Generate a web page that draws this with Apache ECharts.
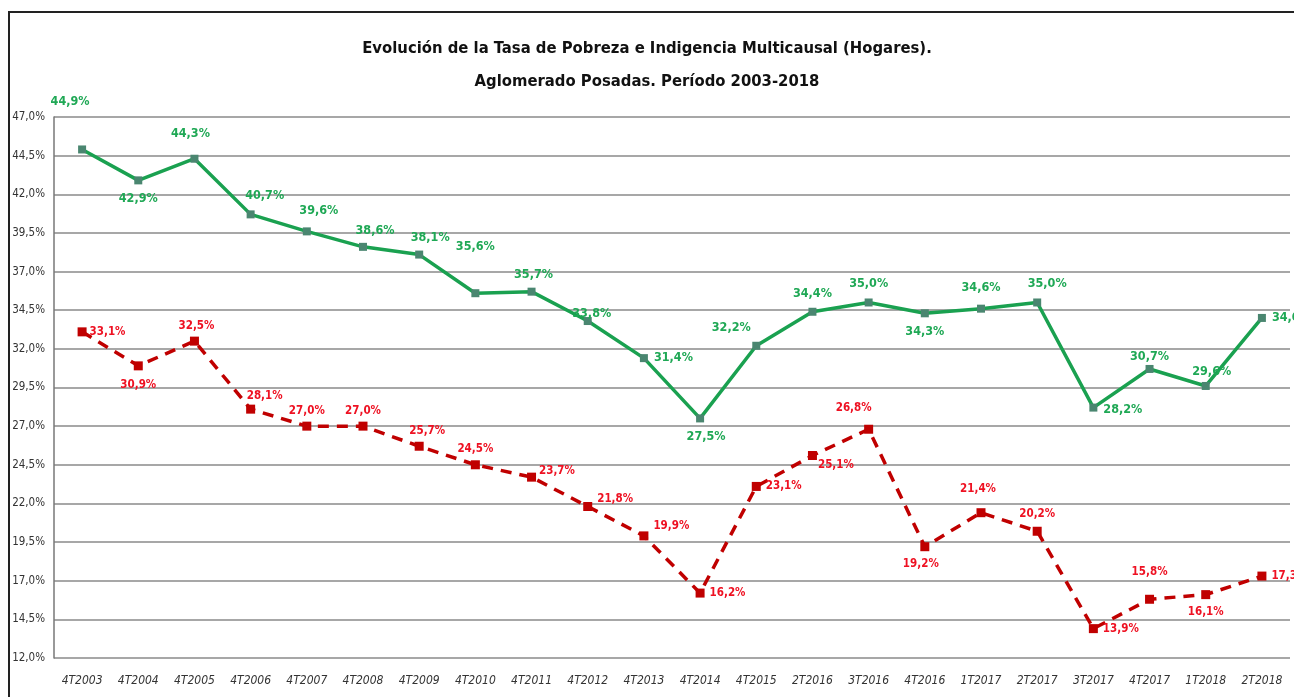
<!DOCTYPE html>
<html>
<head>
<meta charset="utf-8">
<script src="https://cdn.jsdelivr.net/npm/echarts@6/dist/echarts.min.js"></script>
<style>
  body { margin: 0; background: #fff; }
  .frame { position: absolute; left: 8px; top: 11px; width: 1300px; height: 700px;
           border-left: 2px solid #222; border-top: 2px solid #222; }
  #chart { position: absolute; left: 0; top: 0; width: 1294px; height: 697px; }
</style>
</head>
<body>
<div class="frame"></div>
<div id="chart"></div>
<script>
  var categories = ['4T2003','4T2004','4T2005','4T2006','4T2007','4T2008','4T2009','4T2010','4T2011',
    '4T2012','4T2013','4T2014','4T2015','2T2016','3T2016','4T2016','1T2017','2T2017','3T2017',
    '4T2017','1T2018','2T2018'];
  var pobreza = [44.9, 42.9, 44.3, 40.7, 39.6, 38.6, 38.1, 35.6, 35.7, 33.8, 31.4, 27.5, 32.2,
    34.4, 35.0, 34.3, 34.6, 35.0, 28.2, 30.7, 29.6, 34.0];
  var indigencia = [33.1, 30.9, 32.5, 28.1, 27.0, 27.0, 25.7, 24.5, 23.7, 21.8, 19.9, 16.2, 23.1,
    25.1, 26.8, 19.2, 21.4, 20.2, 13.9, 15.8, 16.1, 17.3];
  var yMin = 12, yMax = 47, yStep = 2.5;

  var font = "'Liberation Sans Narrow', 'DejaVu Sans Condensed', sans-serif";

  function pct(v) { return v.toFixed(1).replace('.', ',') + '%'; }

  // label placement per point: [position, dx, dy]
  var greenPos = [['top',-12,-31],['bottom',0,2],['top',-4,-8],['top',14,-2],['top',12,-4],['top',12,0],
    ['top',11,0],['top',0,-30],['top',2,0],['top',4,9],['right',0,0],['bottom',6,2],['top',-25,-2],
    ['top',0,-2],['top',0,-2],['bottom',0,2],['top',0,-4],['top',10,-2],['right',0,2],['top',0,4],
    ['top',6,2],['right',0,0]];
  var redPos = [['right',-2,0],['bottom',0,4],['top',2,0],['top',14,2],['top',0,0],['top',0,0],
    ['top',8,0],['top',0,0],['right',-2,-6],['right',0,-8],['right',0,-10],['right',0,0],
    ['right',0,0],['right',-4,10],['top',-15,-6],['bottom',-4,2],['top',-3,-8],['top',0,-2],
    ['right',0,0],['top',0,-12],['bottom',0,2],['right',0,0]];

  function build(vals, pos) {
    return vals.map(function (v, i) {
      return { value: v, label: { position: pos[i][0], offset: [pos[i][1], pos[i][2]] } };
    });
  }

  var chart = echarts.init(document.getElementById('chart'));
  chart.setOption({
    animation: false,
    title: {
      text: 'Evolución de la Tasa de Pobreza e Indigencia Multicausal (Hogares).\nAglomerado Posadas. Período 2003-2018',
      left: 'center', top: 27,
      textStyle: { fontFamily: font, fontWeight: 'bold', fontSize: 16.5, color: '#111', lineHeight: 33 }
    },
    grid: { left: 54, right: 4, top: 117, bottom: 39 },
    xAxis: {
      type: 'category',
      data: categories,
      boundaryGap: true,
      axisLine: { show: false },
      axisTick: { show: false },
      axisLabel: { interval: 0, margin: 17, fontFamily: font, fontStyle: 'italic', fontSize: 12, color: '#333' }
    },
    yAxis: {
      type: 'value',
      min: yMin, max: yMax, interval: yStep,
      axisLine: { show: true, lineStyle: { color: '#777', width: 1.5 } },
      axisTick: { show: false },
      splitLine: { lineStyle: { color: '#8a8a8a', width: 1.5 } },
      axisLabel: { margin: 9, fontFamily: font, fontSize: 11.5, color: '#333',
        formatter: function (v) { return pct(v); } }
    },
    series: [
      {
        name: 'Pobreza',
        type: 'line',
        data: build(pobreza, greenPos),
        symbol: 'rect', symbolSize: 8,
        lineStyle: { color: '#1aa150', width: 3.5 },
        itemStyle: { color: '#4a8670' },
        label: { show: true, distance: 6, fontFamily: font, fontWeight: 'bold', fontSize: 12.5, color: '#1fa855',
          formatter: function (p) { return pct(p.value); } },
        z: 3
      },
      {
        name: 'Indigencia',
        type: 'line',
        data: build(indigencia, redPos),
        symbol: 'rect', symbolSize: 9,
        lineStyle: { color: '#c00000', width: 3.5, type: [11, 8] },
        itemStyle: { color: '#c00000' },
        label: { show: true, distance: 5, fontFamily: font, fontWeight: 'bold', fontSize: 11.5, color: '#ee1122',
          formatter: function (p) { return pct(p.value); } },
        z: 2
      }
    ]
  });
</script>
</body>
</html>
